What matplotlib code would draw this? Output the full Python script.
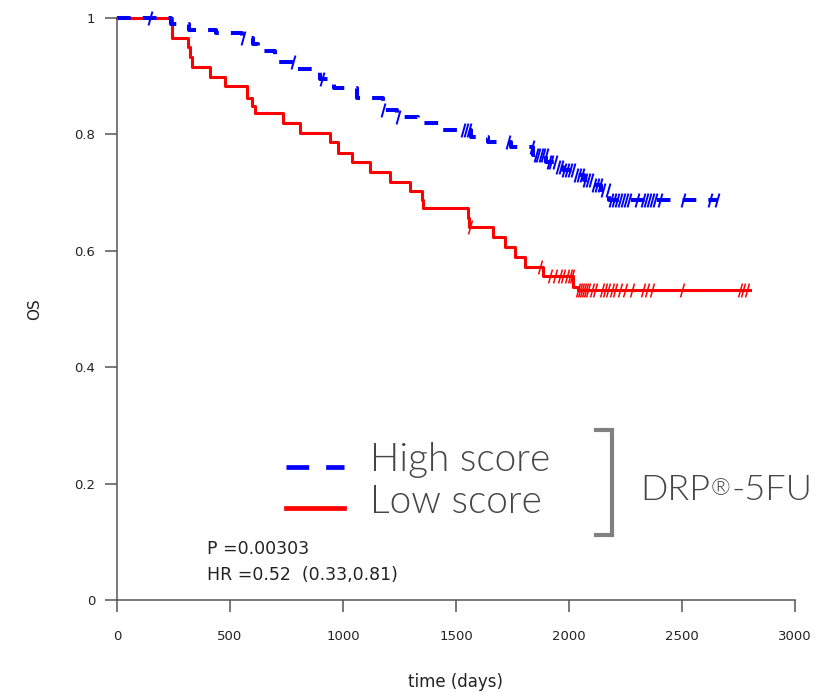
import numpy as np
import matplotlib
matplotlib.use("Agg")
import matplotlib.pyplot as plt
from matplotlib.lines import Line2D
from matplotlib.path import Path
from matplotlib.legend_handler import HandlerLine2D

# Kaplan-Meier steps (time in days, survival after the drop)
high_times = [240, 320, 440, 553, 600, 625, 700, 790, 900, 960, 1060, 1175, 1240,
              1330, 1430, 1565, 1640, 1745, 1840, 1900, 1950, 1975, 2020, 2065,
              2110, 2140, 2175]
high_surv = [0.990, 0.980, 0.974, 0.965, 0.955, 0.944, 0.925, 0.912, 0.896, 0.879,
             0.862, 0.842, 0.830, 0.819, 0.808, 0.795, 0.787, 0.778, 0.765, 0.752,
             0.744, 0.739, 0.730, 0.722, 0.713, 0.705, 0.687]
high_end = 2655
high_censor = [146, 558, 779, 907, 1177, 1243, 1531, 1544, 1558, 1730, 1836, 1854,
               1863, 1876, 1885, 1898, 1912, 1920, 1938, 1951, 1965, 1978, 1991,
               2004, 2018, 2031, 2044, 2058, 2071, 2084, 2097, 2111, 2124, 2137,
               2150, 2173, 2186, 2199, 2212, 2226, 2239, 2252, 2265, 2301, 2327,
               2341, 2354, 2367, 2381, 2403, 2504, 2624, 2655]

low_times = [242, 315, 323, 330, 412, 478, 574, 596, 611, 736, 810, 942, 979, 1039,
             1119, 1208, 1296, 1350, 1356, 1552, 1558, 1665, 1717, 1761, 1805, 1886,
             2019, 2040]
low_surv = [0.965, 0.951, 0.933, 0.916, 0.899, 0.883, 0.862, 0.848, 0.836, 0.819,
            0.802, 0.787, 0.768, 0.753, 0.736, 0.719, 0.702, 0.688, 0.673, 0.657,
            0.641, 0.624, 0.607, 0.590, 0.573, 0.556, 0.538, 0.533]
low_end = 2800
low_censor = [1562, 1872, 1916, 1938, 1960, 1973, 1991, 2004, 2013, 2040, 2049, 2058,
              2066, 2075, 2084, 2102, 2115, 2146, 2159, 2173, 2190, 2204, 2226, 2248,
              2279, 2327, 2345, 2367, 2500, 2757, 2770, 2788]

x_ticks = [0, 500, 1000, 1500, 2000, 2500, 3000]
y_ticks = [0, 0.2, 0.4, 0.6, 0.8, 1]
y_labels = ["0", "0.2", "0.4", "0.6", "0.8", "1"]
legend_labels = ["High score", "Low score"]
stats = ["P =0.00303", "HR =0.52  (0.33,0.81)"]
drug = ["DRP", "®", "-5FU"]


def km_xy(times, surv, end):
    t = np.concatenate([[0], times, [end]])
    s = np.concatenate([[1.0], surv, [surv[-1]]])
    return t, s


def surv_at(times, surv, tc):
    t, s = km_xy(times, surv, max(tc))
    idx = np.searchsorted(t, tc, side="right") - 1
    return s[idx]


class LowHandler(HandlerLine2D):
    # legend sample lines sit a little below the middle of the label
    def create_artists(self, *args, **kw):
        arts = super().create_artists(*args, **kw)
        for a in arts:
            a.set_ydata(np.asarray(a.get_ydata()) - 6.5)
        return arts


W, H = 815, 692
fig = plt.figure(figsize=(W / 100, H / 100), dpi=100)
fig.patch.set_facecolor("white")
ax = fig.add_axes([117 / W, 1 - 600 / H, (795 - 117) / W, (600 - 18) / H])

tick_mark = Path([(-0.28, -1), (0.28, 1)], [Path.MOVETO, Path.LINETO])

tl, sl = km_xy(low_times, low_surv, low_end)
ax.step(tl, sl, where="post", color="#ff0000", lw=2.2, clip_on=False)
ax.plot(low_censor, surv_at(low_times, low_surv, low_censor), ls="none",
        marker=tick_mark, ms=10, mew=1.1, mec="#ff0000", clip_on=False)

th, sh = km_xy(high_times, high_surv, high_end)
ax.step(th, sh, where="post", color="#0000ff", lw=2.9, ls=(0, (3.4, 3.0)),
        clip_on=False)
ax.plot(high_censor, surv_at(high_times, high_surv, high_censor), ls="none",
        marker=tick_mark, ms=10, mew=1.4, mec="#0000ff", clip_on=False)

ax.set_xlim(0, 3000)
ax.set_ylim(0, 1)
for side in ["top", "right"]:
    ax.spines[side].set_visible(False)
for side in ["left", "bottom"]:
    ax.spines[side].set_color("#555555")
    ax.spines[side].set_linewidth(1.1)

txt = "#222222"
ax.set_xticks(x_ticks)
ax.set_xticklabels([str(v) for v in x_ticks], fontsize=9.5, color=txt)
ax.set_yticks(y_ticks)
ax.set_yticklabels(y_labels, fontsize=9.5, color=txt)
ax.tick_params(axis="x", length=8.5, width=1.1, color="#555555", pad=13)
ax.tick_params(axis="y", length=8.5, width=1.1, color="#555555", pad=7)
ax.set_xlabel("time (days)", fontsize=12, color=txt, labelpad=22)
ax.set_ylabel("OS", fontsize=11, color=txt, labelpad=23)

ax.text(400, 0.088, stats[0], fontsize=12.5, color=txt, va="center")
ax.text(400, 0.043, stats[1], fontsize=12.5, color=txt, va="center")

gray = "#464646"
handles = [Line2D([], [], color="#0000ff", lw=3.4, ls=(0, (4.8, 3.6))),
           Line2D([], [], color="#ff0000", lw=3.4)]
leg = fig.legend(handles, legend_labels, loc="center left",
                 bbox_to_anchor=(286 / W, 1 - 481 / H), frameon=False,
                 borderpad=0, borderaxespad=0, handlelength=1.5,
                 handletextpad=0.65, labelspacing=0.15,
                 handler_map={Line2D: LowHandler()},
                 prop=dict(family="Lato", size=28, weight=300))
for t in leg.get_texts():
    t.set_color(gray)

bx = np.array([596, 612, 612, 596]) / W
by = 1 - np.array([430, 430, 535, 535]) / H
fig.add_artist(Line2D(bx, by, color="#808080", lw=3, solid_joinstyle="miter"))

t1 = fig.text(640 / W, 1 - 500 / H, drug[0], fontsize=26, family="Lato",
              weight=300, color=gray, va="baseline", ha="left")
t2 = fig.text(0, 0, drug[1], fontsize=17, family="Lato", weight=300,
              color=gray, va="top", ha="left")
t3 = fig.text(0, 0, drug[2], fontsize=26, family="Lato", weight=300,
              color=gray, va="baseline", ha="left")
fig.canvas.draw()
inv = fig.transFigure.inverted()
r = fig.canvas.get_renderer()
b1 = t1.get_window_extent(r)
x1, ytop = inv.transform((b1.x1 + 1, b1.y1 - 4))
t2.set_position((x1, ytop))
b2 = t2.get_window_extent(r)
x2, _ = inv.transform((b2.x1 + 1, 0))
t3.set_position((x2, 1 - 500 / H))

fig.savefig("out.png", dpi=100)
